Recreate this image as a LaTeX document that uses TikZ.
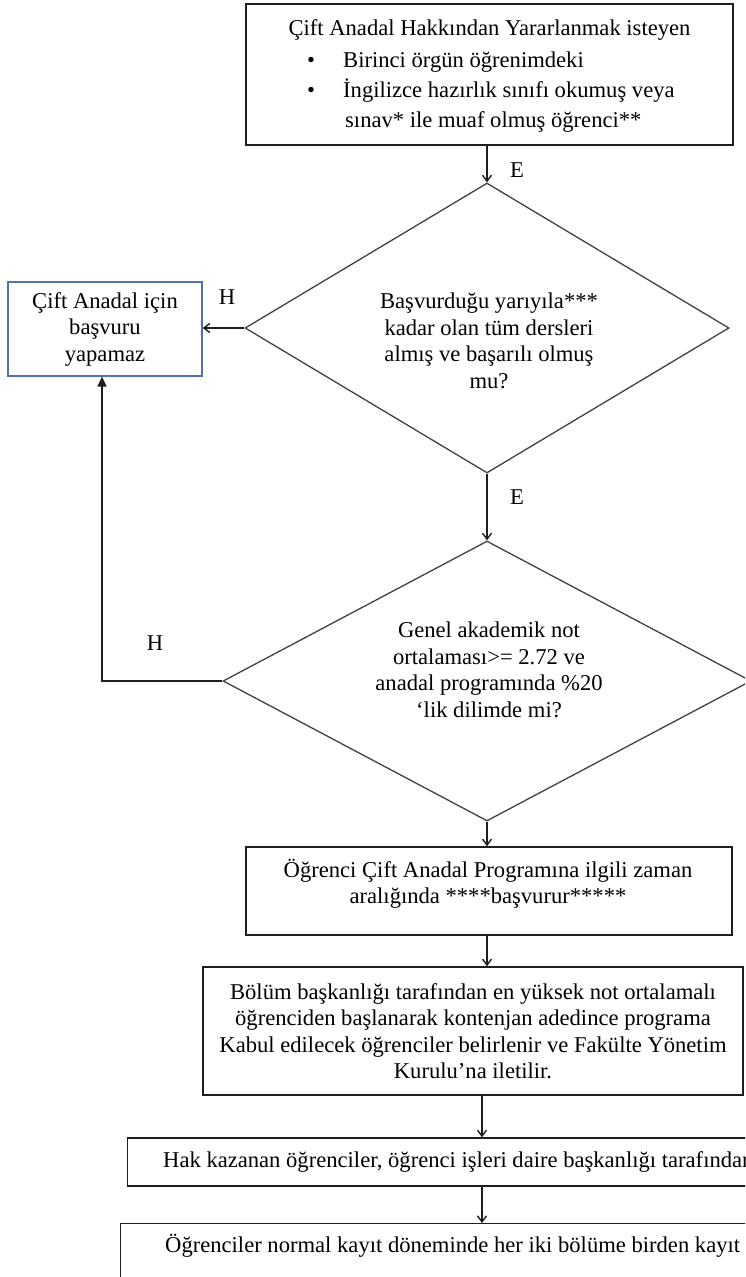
\documentclass[tikz,border=0pt]{standalone}
\usepackage{fontspec}
\setmainfont{Liberation Serif}
\usetikzlibrary{shapes.geometric,arrows.meta}
\definecolor{ln}{RGB}{30,30,30}
\definecolor{dl}{RGB}{65,65,65}
\definecolor{bl}{RGB}{79,113,175}
\begin{document}
\begin{tikzpicture}[x=1pt,y=-1pt,
  lbl/.style={font=\fontsize{22.6}{26.5}\selectfont, inner sep=0pt},
  txt/.style={lbl, align=center},
  box/.style={draw=ln, line width=1.4pt, inner sep=0pt},
  dia/.style={diamond, draw=dl, line width=1.3pt, inner sep=0pt},
  arr/.style={draw=ln, line width=1.4pt, -{Straight Barb[length=6pt,width=9pt]}},
  uparr/.style={draw=ln, line width=1.4pt, -{Triangle[length=10pt,width=9pt]}}]
\useasboundingbox (0,0) rectangle (745,1277);
\clip (0,0) rectangle (745,1277);
% top box
\node[box, minimum width=487pt, minimum height=141pt] (top) at (489.5,74.5) {};
\node[lbl, anchor=base] (t1) at (489.5,35) {Çift Anadal Hakkından Yararlanmak isteyen};
\node[lbl, anchor=base] (bu1) at (311,67) {•};
\node[lbl, anchor=base west] (t2) at (343,67) {Birinci örgün öğrenimdeki};
\node[lbl, anchor=base] (bu2) at (311,97) {•};
\node[lbl, anchor=base west] (t3) at (343,97) {İngilizce hazırlık sınıfı okumuş veya};
\node[lbl, anchor=base west] (t4) at (345,127) {sınav* ile muaf olmuş öğrenci**};
% diamond 1
\node[dia, minimum width=484pt, minimum height=290pt] (d1) at (487,328) {};
\node[txt] (d1t) at (489,341) {Başvurduğu yarıyıla***\\kadar olan tüm dersleri\\almış ve başarılı olmuş\\mu?};
% left box
\node[txt, draw=bl, line width=1.2pt, minimum width=194pt, minimum height=94pt] (no) at (105,329) {Çift Anadal için\\başvuru\\yapamaz};
% diamond 2
\node[dia, minimum width=528pt, minimum height=280pt] (d2) at (487,681) {};
\node[txt] (d2t) at (489,670) {Genel akademik not\\ortalaması>= 2.72 ve\\anadal programında \%20\\‘lik dilimde mi?};
% box 3
\node[box, minimum width=486pt, minimum height=88pt] (b3) at (489,891) {};
\node[txt] (b3t) at (488,884) {Öğrenci Çift Anadal Programına ilgili zaman\\aralığında ****başvurur*****};
% box 4
\node[box, txt, minimum width=540pt, minimum height=128pt] (b4) at (473,1031) {Bölüm başkanlığı tarafından en yüksek not ortalamalı\\öğrenciden başlanarak kontenjan adedince programa\\Kabul edilecek öğrenciler belirlenir ve Fakülte Yönetim\\Kurulu’na iletilir.};
% box 5
\node[box, minimum width=700pt, minimum height=48pt, anchor=west] (b5) at (127,1162) {};
\node[lbl, anchor=west] (b5t) at (163,1162) {Hak kazanan öğrenciler, öğrenci işleri daire başkanlığı tarafından};
% box 6
\node[box, minimum width=700pt, minimum height=120pt, anchor=north west] (b6) at (120,1223) {};
\node[lbl, anchor=west] (b6t) at (165,1246) {Öğrenciler normal kayıt döneminde her iki bölüme birden kayıt};
% labels
\node[lbl] (e1) at (517,170) {E};
\node[lbl] (h1) at (227,297) {H};
\node[lbl] (e2) at (517,497) {E};
\node[lbl] (h2) at (155,643) {H};
% connectors
\draw[arr] (d1.north |- top.south) -- (d1.north);
\draw[arr] (d1.west) -- (d1.west -| no.east);
\draw[arr] (d1.south) -- (d2.north);
\draw[uparr] (d2.west) -| ([xshift=-3pt]no.south);
\draw[arr] (d2.south) -- (d2.south |- b3.north);
\draw[arr] (d2.south |- b3.south) -- (d2.south |- b4.north);
\draw[arr] ([xshift=9pt]b4.south) -- ([xshift=9pt]b4.south |- b5.north);
\draw[arr] ([xshift=9pt]b4.south |- b5.south) -- ([xshift=9pt]b4.south |- b6.north);
\end{tikzpicture}
\end{document}
